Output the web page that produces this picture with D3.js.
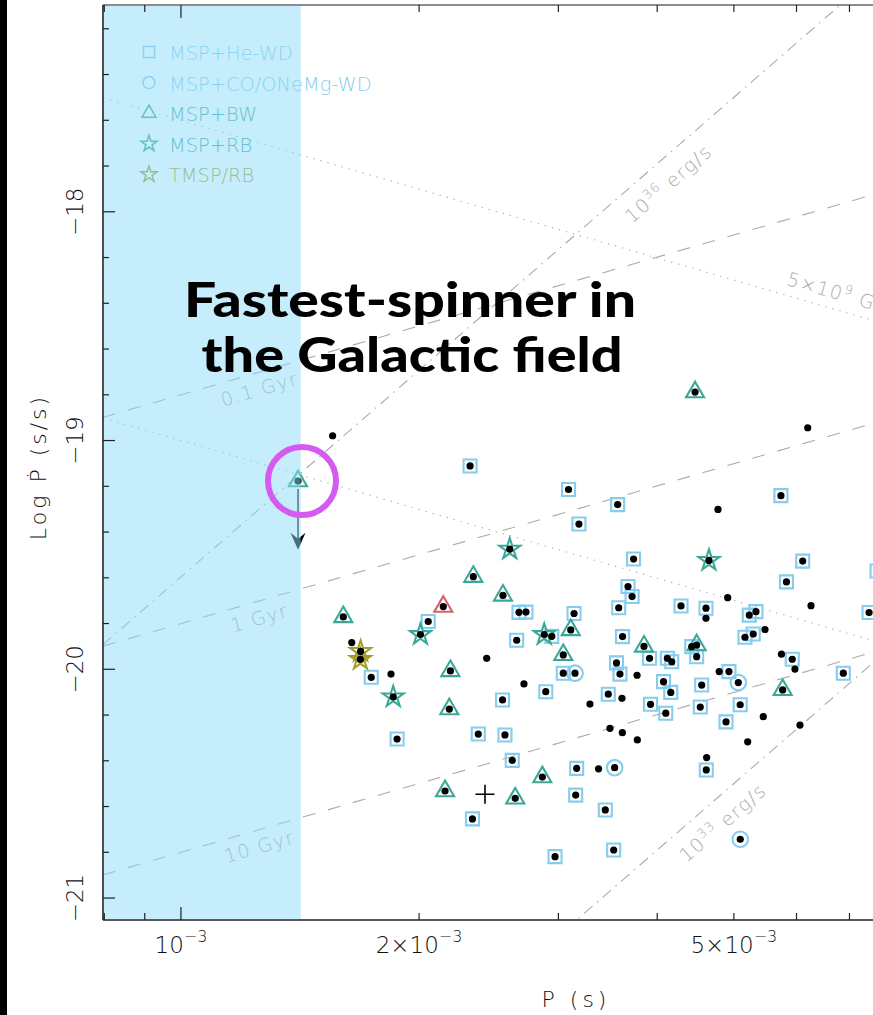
<!DOCTYPE html>
<html>
<head>
<meta charset="utf-8">
<script src="https://cdn.jsdelivr.net/npm/d3@7"></script>
<style>
  html, body { margin: 0; padding: 0; background: #fff; }
  svg { display: block; }
</style>
</head>
<body>
<script>
// ---------- data: [spin period (ms), log10 Pdot (s/s)] ----------
const heWD = [
  [2.320,-19.111],[3.090,-19.214],[3.185,-19.365],[3.565,-19.280],[3.734,-19.518],
  [5.734,-19.241],[6.109,-19.527],[5.827,-19.618],[3.674,-19.638],[3.718,-19.682],
  [3.576,-19.731],[4.287,-19.723],[4.610,-19.733],[5.229,-19.763],[5.332,-19.748],
  [7.411,-19.752],[7.585,-19.570],[2.675,-19.751],[2.730,-19.750],[3.140,-19.756],
  [2.054,-19.791],[1.740,-20.035],[2.657,-19.873],[2.943,-19.856],[3.616,-19.857],
  [5.164,-19.860],[5.290,-19.846],[4.423,-19.901],[4.487,-19.945],[3.912,-19.952],
  [4.120,-19.952],[4.173,-19.967],[3.553,-19.972],[3.589,-20.021],[5.926,-19.956],
  [6.876,-20.017],[3.043,-20.017],[4.929,-20.010],[4.074,-20.054],[4.161,-20.101],
  [4.553,-20.069],[3.469,-20.109],[2.892,-20.098],[2.550,-20.134],[3.923,-20.153],
  [4.534,-20.165],[5.093,-20.155],[4.101,-20.192],[4.887,-20.230],[1.876,-20.305],
  [2.376,-20.283],[2.568,-20.287],[2.623,-20.398],[3.164,-20.433],[4.614,-20.440],
  [3.155,-20.550],[2.336,-20.654],[3.439,-20.615],[2.971,-20.819],[3.524,-20.790]
];
const coWD = [[3.149,-20.017],[5.065,-20.058],[3.534,-20.430],[5.094,-20.743]];
const blackWidow = [
  [1.604,-19.771],[2.342,-19.595],[2.553,-19.677],[2.191,-20.007],[2.184,-20.174],
  [3.110,-19.828],[3.043,-19.937],[3.849,-19.900],[4.487,-19.894],[4.466,-18.788],
  [5.763,-20.090],[2.863,-20.471],[2.157,-20.532],[2.646,-20.564]
];
const blackWidowAlt = [[2.146,-19.726]];
const redback = [[2.604,-19.475],[4.650,-19.524],[2.008,-19.848],[2.879,-19.848],[1.855,-20.121]];
const transitional = [[1.687,-19.922],[1.686,-19.957]];
const isolated = [
  [1.555,-18.979],[1.644,-19.883],[1.843,-20.021],[2.435,-19.952],[2.714,-20.064],
  [3.289,-20.152],[3.372,-20.435],[3.610,-20.127],[3.772,-20.026],[3.486,-20.258],
  [3.614,-20.277],[3.775,-20.309],[4.619,-20.386],[5.205,-20.317],[5.447,-20.207],
  [6.061,-20.244],[4.911,-19.687],[4.774,-19.301],[6.199,-18.944],[5.474,-19.826],
  [6.259,-19.722],[5.973,-19.999],[5.743,-19.934],[4.610,-19.777],[4.791,-20.010]
];
const crossMarks = [[2.423,-20.546]];
const fastestSpinner = [1.406,-19.177];   // upper limit on Pdot
const upperLimitDex = 0.30;
const shadeMaxP = 1.417e-3;               // s

// ---------- reference lines ----------
const ageLinesGyr = [0.1, 1, 10];
const ageLabels = ["0.1 Gyr", "1 Gyr", "10 Gyr"];
const edotLogLines = [36, 33];            // log10 erg/s
const fieldLogPPdot = [-20.6, -22.0];     // log10(P * Pdot)

// ---------- axes ----------
const xTickValues = [0.8e-3,0.9e-3,1e-3,2e-3,3e-3,4e-3,5e-3,6e-3,7e-3,8e-3,9e-3,1e-2];
const xTickLabels = [[1e-3,"","10","−3"],[2e-3,"2×","10","−3"],[5e-3,"5×","10","−3"]];
const yTickLabels = [-18,-19,-20,-21];

const legendItems = [
  {label:"MSP+He-WD", type:"square"},
  {label:"MSP+CO/ONeMg-WD", type:"circle"},
  {label:"MSP+BW", type:"triangle"},
  {label:"MSP+RB", type:"star"},
  {label:"TMSP/RB", type:"tstar"}
];

const colors = {
  square:"#84cdee", circle:"#84cdee", triangle:"#3aa899", star:"#3aa899",
  tstar:"#a39d2c", triangleAlt:"#d4606c", guide:"#aaaaaa"
};

const W = 873, H = 1015;
const svg = d3.select("body").append("svg").attr("width", W).attr("height", H);
svg.append("rect").attr("width", W).attr("height", H).attr("fill", "#fff");

const x = d3.scaleLog().domain([0.797e-3, 1e-2]).range([103, 972]);
const y = d3.scaleLinear().domain([-21.096, -17.096]).range([920, 5]);
const [x0, x1] = x.range();
const [yb, yt] = y.range();

const FONT = "'DejaVu Sans', sans-serif";

svg.append("defs").append("clipPath").attr("id", "plotclip")
  .append("rect").attr("x", x0).attr("y", yt).attr("width", x1 - x0).attr("height", yb - yt);

// ---------- guide lines ----------
const guides = svg.append("g").attr("clip-path", "url(#plotclip)");
const logEdotConst = Math.log10(4 * Math.PI * Math.PI * 1e45);
const yr = 3.15576e7;
const ageFn = g => lp => lp - Math.log10(2 * g * 1e9 * yr);
const edotFn = e => lp => e - logEdotConst + 3 * lp;
const fieldFn = c => lp => c - lp;
const lineGen = d3.line().x(d => x(d[0])).y(d => y(d[1]));
const pSpan = x.domain();

function drawGuide(fn, dash) {
  const pts = pSpan.map(p => [p, fn(Math.log10(p))]);
  guides.append("path").attr("d", lineGen(pts))
    .attr("fill", "none").attr("stroke", colors.guide)
    .attr("stroke-width", 1.1).attr("stroke-dasharray", dash);
}
fieldLogPPdot.forEach(c => drawGuide(fieldFn(c), "1.3,6"));
ageLinesGyr.forEach(g => drawGuide(ageFn(g), "13,13"));
edotLogLines.forEach(e => drawGuide(edotFn(e), "11,6,1.5,6"));

function lineLabel(fn, p, off, parts) {
  const lp = Math.log10(p);
  const px = x(p), py = y(fn(lp));
  const qx = x(p * 1.01), qy = y(fn(Math.log10(p * 1.01)));
  const ang = Math.atan2(qy - py, qx - px) * 180 / Math.PI;
  const t = guides.append("text")
    .attr("transform", `translate(${px},${py}) rotate(${ang})`)
    .attr("x", 0).attr("y", off)
    .attr("text-anchor", "middle")
    .attr("font-family", FONT).attr("font-weight", 200)
    .attr("font-size", 19).attr("letter-spacing", 1.4)
    .attr("fill", colors.guide);
  parts.forEach(([s, sup]) => {
    const ts = t.append("tspan").text(s);
    if (sup === 1) ts.attr("dy", -8).attr("font-size", 13);
    if (sup === -1) ts.attr("dy", 8);
  });
}
ageLinesGyr.forEach((g, i) => lineLabel(ageFn(g), 1.24e-3, 23, [[ageLabels[i], 0]]));
lineLabel(edotFn(36), 3.96e-3, 29, [["10", 0], ["36", 1], [" erg/s", -1]]);
lineLabel(edotFn(33), 4.64e-3, 29, [["10", 0], ["33", 1], [" erg/s", -1]]);
lineLabel(fieldFn(fieldLogPPdot[0]), 6.55e-3, -10, [["5×10", 0], ["9", 1], [" G", -1]]);

// ---------- legend ----------
const symbolPath = (type, s) => {
  const gen = {
    square: d3.symbol(d3.symbolSquare, s * s),
    circle: d3.symbol(d3.symbolCircle, Math.PI * s * s),
    triangle: d3.symbol(d3.symbolTriangle, (s / (2 * Math.sqrt(3))) ** 2 * 3 * Math.sqrt(3)),
    star: d3.symbol(d3.symbolStar, s * s / 0.8908130915292852),
    tstar: d3.symbol(d3.symbolStar, s * s / 0.8908130915292852)
  };
  return gen[type]();
};
const legendSize = {square: 11, circle: 6, triangle: 14, star: 8.5, tstar: 8.5};
const legend = svg.append("g");
legendItems.forEach((it, i) => {
  const cy = 52 + i * 30.6;
  legend.append("path").attr("d", symbolPath(it.type, legendSize[it.type]))
    .attr("transform", `translate(149,${cy})`)
    .attr("fill", "none").attr("stroke", colors[it.type]).attr("stroke-width", 1.5);
  legend.append("text").attr("x", 169).attr("y", cy + 8)
    .attr("font-family", FONT).attr("font-weight", 200).attr("font-size", 19.4)
    .attr("fill", colors[it.type]).text(it.label);
});

// ---------- data ----------
const marks = svg.append("g").attr("clip-path", "url(#plotclip)");
const P = d => d[0] * 1e-3;
function drawSymbols(data, type, size, color) {
  marks.append("g").selectAll("path").data(data).join("path")
    .attr("d", symbolPath(type, size))
    .attr("transform", d => `translate(${x(P(d))},${y(d[1])})`)
    .attr("fill", "none").attr("stroke", color).attr("stroke-width", 2.1);
}
drawSymbols(heWD, "square", 13, colors.square);
drawSymbols(coWD, "circle", 7.8, colors.circle);
drawSymbols(blackWidow.concat([fastestSpinner]), "triangle", 18, colors.triangle);
drawSymbols(blackWidowAlt, "triangle", 18, colors.triangleAlt);
drawSymbols(redback, "star", 11, colors.star);
drawSymbols(transitional, "tstar", 11, colors.tstar);

const allPulsars = [].concat(heWD, coWD, blackWidow, blackWidowAlt, redback, transitional, isolated, [fastestSpinner]);
marks.append("g").selectAll("circle").data(allPulsars).join("circle")
  .attr("cx", d => x(P(d))).attr("cy", d => y(d[1])).attr("r", 3.6).attr("fill", "#000");

crossMarks.forEach(d => {
  const cx = x(P(d)), cy = y(d[1]);
  marks.append("path").attr("d", `M${cx - 9.5},${cy}H${cx + 9.5}M${cx},${cy - 9.5}V${cy + 9.5}`)
    .attr("stroke", "#000").attr("stroke-width", 1.6);
});

// upper-limit arrow on the fastest spinner
{
  const ax = x(P(fastestSpinner));
  const ay0 = y(fastestSpinner[1]) + 8;
  const ay1 = y(fastestSpinner[1] - upperLimitDex);
  marks.append("line").attr("x1", ax).attr("x2", ax).attr("y1", ay0).attr("y2", ay1 - 6)
    .attr("stroke", "#000").attr("stroke-width", 1.4);
  marks.append("path")
    .attr("d", `M${ax},${ay1}L${ax - 7.5},${ay1 - 17}L${ax},${ay1 - 11}L${ax + 7.5},${ay1 - 17}Z`)
    .attr("fill", "#000");
}

// ---------- shaded period range ----------
svg.append("rect")
  .attr("x", x0 + 1).attr("y", yt + 1)
  .attr("width", x(shadeMaxP) - x0 - 1).attr("height", yb - yt - 2)
  .attr("fill", "#8edcf7").attr("fill-opacity", 0.5);

// ---------- frame and ticks ----------
const frame = svg.append("g").attr("stroke", "#222").attr("stroke-width", 1.6);
frame.append("line").attr("x1", x0).attr("x2", x1).attr("y1", yb).attr("y2", yb);
frame.append("line").attr("x1", x0).attr("x2", x1).attr("y1", yt).attr("y2", yt).attr("stroke", "#666");
frame.append("line").attr("x1", x0).attr("x2", x0).attr("y1", yt).attr("y2", yb);

xTickValues.forEach(v => {
  const len = v === 1e-3 || v === 1e-2 ? 13 : 7;
  frame.append("line").attr("x1", x(v)).attr("x2", x(v)).attr("y1", yb).attr("y2", yb - len).attr("stroke-width", 1.2);
  frame.append("line").attr("x1", x(v)).attr("x2", x(v)).attr("y1", yt).attr("y2", yt + len).attr("stroke-width", 1.2);
});
d3.range(-21, -17.1, 0.2).forEach(v => {
  const major = Math.abs(v - Math.round(v)) < 1e-6;
  frame.append("line").attr("x1", x0).attr("x2", x0 + (major ? 12 : 6))
    .attr("y1", y(v)).attr("y2", y(v)).attr("stroke-width", 1.2);
});

const tickFont = 23;
xTickLabels.forEach(([v, pre, base, sup]) => {
  const t = svg.append("text").attr("x", x(v)).attr("y", 953)
    .attr("text-anchor", "middle").attr("font-family", FONT).attr("font-weight", 200)
    .attr("font-size", tickFont).attr("fill", "#111");
  t.append("tspan").text(pre + base);
  t.append("tspan").attr("dy", -11).attr("font-size", 16).text(sup);
});
yTickLabels.forEach(v => {
  svg.append("text").attr("transform", `translate(83,${y(v)}) rotate(-90)`)
    .attr("text-anchor", "middle").attr("font-family", FONT).attr("font-weight", 200)
    .attr("font-size", tickFont).attr("fill", "#111").text(d3.format("")(v).replace("-", "−"));
});

svg.append("text").attr("x", 576).attr("y", 1007).attr("text-anchor", "middle")
  .attr("font-family", FONT).attr("font-weight", 200).attr("font-size", 22)
  .attr("letter-spacing", 4).attr("fill", "#111").text("P (s)");
svg.append("text").attr("transform", "translate(46,467) rotate(-90)").attr("text-anchor", "middle")
  .attr("font-family", FONT).attr("font-weight", 200).attr("font-size", 22)
  .attr("letter-spacing", 3).attr("fill", "#111").text("Log Ṗ (s/s)");

// ---------- annotation ----------
svg.append("circle").attr("cx", x(P(fastestSpinner)) + 4).attr("cy", y(fastestSpinner[1]))
  .attr("r", 34).attr("fill", "none").attr("stroke", "#d55af2").attr("stroke-width", 6);

const note = svg.append("g").attr("font-family", "Lato, 'Open Sans', sans-serif")
  .attr("font-weight", 900).attr("font-size", 47).attr("fill", "#000").attr("text-anchor", "middle");
note.append("text").attr("x", 410).attr("y", 317)
  .attr("textLength", 452).attr("lengthAdjust", "spacingAndGlyphs").text("Fastest-spinner in");
note.append("text").attr("x", 412).attr("y", 372)
  .attr("textLength", 421).attr("lengthAdjust", "spacingAndGlyphs").text("the Galactic field");

// dark strip along the left edge
svg.append("rect").attr("x", 0).attr("y", 0).attr("width", 7).attr("height", H).attr("fill", "#000");
</script>
</body>
</html>
